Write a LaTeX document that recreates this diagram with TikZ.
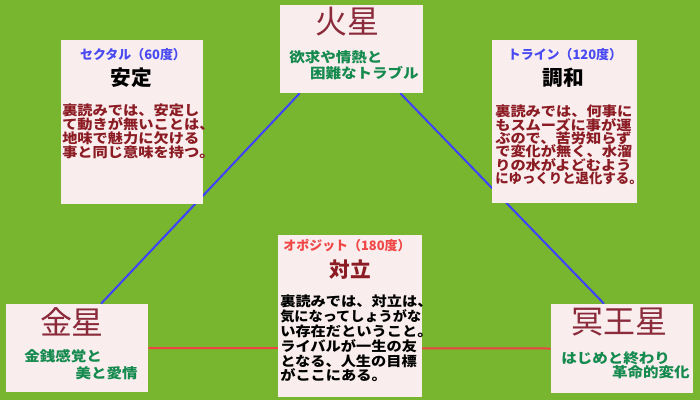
\documentclass[tikz,border=0pt]{standalone}
\usepackage{fontspec}
\usepackage{graphicx}
\setmainfont{Noto Sans CJK JP}
\newfontfamily\widefont[FakeStretch=1.12]{Noto Sans CJK JP}
\usetikzlibrary{backgrounds,fit,calc}
\definecolor{fieldgreen}{RGB}{120,182,48}
\definecolor{cardfill}{RGB}{249,237,237}
\definecolor{aspectblue}{RGB}{64,64,255}
\definecolor{aspectred}{RGB}{238,68,68}
\definecolor{headblue}{RGB}{74,74,242}
\definecolor{headred}{RGB}{240,70,70}
\definecolor{bodyred}{RGB}{140,28,36}
\definecolor{notegreen}{RGB}{20,138,78}
\definecolor{planetred}{RGB}{138,42,58}
\newcommand\halfpunct[1]{\makebox[0.3em][l]{#1}}

\begin{document}
\begin{tikzpicture}[x=0.75pt,y=-0.75pt,
  card/.style={fill=cardfill,draw=none,inner sep=0pt},
  planetname/.style={text=planetred,font=\fontsize{24}{28}\selectfont,inner sep=0pt},
  planetnote/.style={text=notegreen,font=\widefont\bfseries\fontsize{10.4}{12}\selectfont,inner sep=0pt},
  aspecthead/.style={font=\bfseries\fontsize{9.7}{12}\selectfont,inner sep=0pt},
  aspectname/.style={font=\bfseries\fontsize{15.5}{18}\selectfont,inner sep=0pt},
  aspectbody/.style={font=\widefont\bfseries\fontsize{10.2}{#1}\selectfont,
    align=left,anchor=north west,inner sep=0pt},
  sideline/.style={line width=1.5pt,draw=aspectblue},
  baseline/.style={line width=1.5pt,draw=aspectred}]
\useasboundingbox (0,0) rectangle (700,400);

% planets
\node[card,fit={(280,5) (423,93)}] (mars) {};
\node[planetname] (marsname) at (347,22) {火星};
\node[planetnote,anchor=west] (marsnote1) at (289,57) {欲求や情熱と};
\node[planetnote,anchor=east] (marsnote2) at (419,73) {困難なトラブル};

\node[card,fit={(6,304) (148,392)}] (venus) {};
\node[planetname] (venusname) at (72,322) {金星};
\node[planetnote,anchor=west] (venusnote1) at (24,356) {金銭感覚と};
\node[planetnote,anchor=east] (venusnote2) at (138,373) {美と愛情};

\node[card,fit={(551,304) (693,393)}] (pluto) {};
\node[planetname] (plutoname) at (619,322) {冥王星};
\node[planetnote,anchor=west] (plutonote1) at (561,358) {はじめと終わり};
\node[planetnote,anchor=east] (plutonote2) at (690,372) {革命的変化};

% aspects
\node[card,fit={(61,40) (203,204)}] (sextile) {};
\node[aspecthead,text=headblue] (sextilehead) at (133,55) {セクタル（60度）};
\node[aspectname] (sextilename) at (131,78) {安定};
\node[aspectbody=10.3pt,text=bodyred] (sextilebody) at (62,104)
  {裏読みでは、安定し\\て動きが無いことは\halfpunct{、}\\地味で魅力に欠ける\\事と同じ意味を持つ\halfpunct{。}};

\node[card,fit={(492,40) (637,203)}] (trine) {};
\node[aspecthead,text=headblue] (trinehead) at (565,55) {トライン（120度）};
\node[aspectname] (trinename) at (563,78) {調和};
\node[aspectbody=10pt,text=bodyred] (trinebody) at (495,105)
  {裏読みでは、何事に\\もスムーズに事が運\\ぶので、苦労知らず\\で変化が無く、水溜\\りの水がよどむよう\\\scalebox{0.88}[1]{にゆっくりと退化する\halfpunct{。}}};

\node[card,fit={(278,235) (422,397)}] (opposition) {};
\node[aspecthead,text=headred] (oppositionhead) at (347,246) {オポジット（180度）};
\node[aspectname,text=bodyred] (oppositionname) at (350,270) {対立};
\node[aspectbody=11.1pt,text=black] (oppositionbody) at (280,295)
  {裏読みでは、対立は\halfpunct{、}\\\scalebox{0.93}[1]{気になってしょうがな}\\い存在だということ\halfpunct{。}\\ライバルが一生の友\\となる、人生の目標\\がここにある。};

\begin{pgfonlayer}{background}
\fill[fieldgreen] (0,0) rectangle (700,400);
\draw[sideline] ($(mars.south west)+(20,0)$) -- ($(venus.north)+(24,0)$);
\draw[sideline] ($(mars.south east)+(-23,0)$) -- ($(pluto.north)+(-18,0)$);
\draw[baseline] (venus.east) -- (pluto.west);
\end{pgfonlayer}
\end{tikzpicture}
\end{document}
